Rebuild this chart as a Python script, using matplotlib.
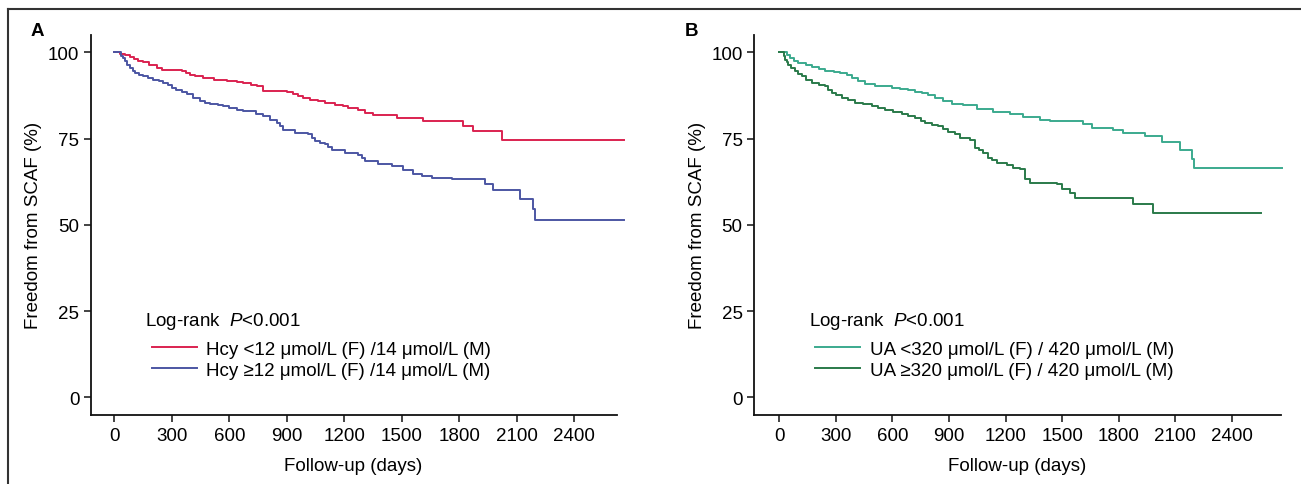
import matplotlib
matplotlib.use("Agg")
import matplotlib.pyplot as plt
from matplotlib.lines import Line2D

plt.rcParams['font.family'] = ['Liberation Sans', 'DejaVu Sans']
plt.rcParams['mathtext.fontset'] = 'custom'
plt.rcParams['mathtext.rm'] = 'Liberation Sans'
plt.rcParams['mathtext.it'] = 'Liberation Sans:italic'

# ---------------- data ----------------
# Panel A: Hcy
hcy_low_t = [0, 30, 55, 80, 100, 125, 150, 180, 220, 250, 350, 375, 394, 420, 463, 520, 585, 640, 672, 710,
             742, 776, 898, 930, 959, 985, 1020, 1063, 1100, 1150, 1190, 1220, 1270, 1307, 1350, 1472, 1611,
             1820, 1872, 2020]
hcy_low_s = [100, 99.6, 99.2, 98.6, 98.1, 97.6, 97.1, 96.4, 95.5, 95.0, 94.5, 94.0, 93.5, 93.0, 92.5, 92.1,
             91.8, 91.5, 91.1, 90.6, 90.1, 88.9, 88.5, 87.8, 87.2, 86.7, 86.2, 85.8, 85.3, 84.8, 84.3, 83.8,
             83.2, 82.5, 81.8, 81.0, 80.0, 78.6, 77.1, 74.7]
hcy_low_end = 2660

hcy_high_t = [0, 35, 45, 55, 68, 81, 95, 107, 130, 150, 175, 202, 230, 255, 280, 298, 320, 350, 377, 410,
              446, 475, 498, 540, 568, 600, 637, 670, 707, 740, 776, 810, 846, 865, 881, 942, 1011, 1030, 1046,
              1070, 1098, 1115, 1133, 1202, 1272, 1290, 1307, 1376, 1446, 1507, 1559, 1603, 1655, 1759, 1933,
              1976, 2115, 2185, 2194]
hcy_high_s = [100, 99.0, 98.2, 97.4, 96.4, 95.5, 94.7, 94.0, 93.5, 93.1, 92.6, 92.1, 91.6, 91.1, 90.4, 89.7,
              89.0, 88.4, 87.8, 86.8, 85.8, 85.3, 84.9, 84.6, 84.4, 83.9, 83.4, 83.1, 82.9, 82.2, 81.5, 80.5,
              79.6, 78.6, 77.6, 76.7, 76.2, 75.2, 74.2, 73.7, 73.3, 72.5, 71.6, 70.9, 70.2, 69.3, 68.5, 67.7,
              67.0, 65.8, 64.8, 64.1, 63.7, 63.2, 61.7, 60.0, 57.6, 54.5, 51.3]
hcy_high_end = 2660

# Panel B: UA
ua_low_t = [0, 40, 58, 80, 102, 140, 173, 210, 243, 290, 323, 360, 385, 420, 455, 508, 597, 640, 685, 720,
            756, 790, 826, 870, 915, 976, 1047, 1135, 1224, 1294, 1383, 1436, 1612, 1657, 1771, 1824, 1939,
            2028, 2124, 2187, 2199]
ua_low_s = [100, 99.2, 98.4, 97.6, 96.9, 96.2, 95.7, 95.2, 94.7, 94.3, 94.0, 93.3, 92.6, 91.7, 90.9, 90.2,
            89.7, 89.3, 89.0, 88.6, 88.3, 87.5, 86.8, 86.0, 85.1, 84.6, 83.6, 82.6, 82.0, 81.3, 80.5, 80.0,
            79.1, 78.1, 77.4, 76.7, 75.7, 73.9, 71.8, 69.0, 66.4]
ua_low_end = 2667

ua_high_t = [0, 24, 31, 40, 49, 65, 84, 100, 120, 145, 173, 210, 243, 260, 279, 300, 332, 365, 402, 445,
             491, 525, 561, 605, 650, 685, 720, 750, 773, 810, 844, 870, 897, 932, 959, 1012, 1038, 1060, 1082,
             1109, 1130, 1153, 1206, 1241, 1277, 1303, 1330, 1471, 1498, 1542, 1568, 1877, 1983]
ua_high_s = [100, 99.0, 97.9, 97.1, 96.4, 95.4, 94.5, 93.8, 93.1, 92.1, 91.1, 90.6, 90.2, 89.2, 88.3, 87.5,
             86.8, 86.1, 85.4, 84.9, 84.4, 83.9, 83.4, 82.7, 82.0, 81.5, 81.0, 80.2, 79.4, 79.0, 78.6, 77.8,
             77.0, 76.2, 75.2, 74.5, 72.3, 71.6, 70.9, 69.4, 68.7, 68.0, 67.2, 66.6, 66.3, 63.2, 62.2, 61.7,
             60.3, 59.3, 57.9, 56.0, 53.5]
ua_high_end = 2552

x_ticks = [0, 300, 600, 900, 1200, 1500, 1800, 2100, 2400]
y_ticks = [0, 25, 50, 75, 100]

labels_A = ["Hcy <12 μmol/L (F) /14 μmol/L (M)", "Hcy ≥12 μmol/L (F) /14 μmol/L (M)"]
labels_B = ["UA <320 μmol/L (F) / 420 μmol/L (M)", "UA ≥320 μmol/L (F) / 420 μmol/L (M)"]
colors_A = ["#DA2250", "#4C56A3"]
colors_B = ["#3BAA8E", "#2A7A4A"]

# ---------------- figure ----------------
W, H = 1301, 485
fig = plt.figure(figsize=(W / 100, H / 100), dpi=100)
FS = 13.5


def px_rect(l, r, t, b):
    return [l / W, (H - b) / H, (r - l) / W, (b - t) / H]


def km(ax, t, s, end, color):
    xs = list(t) + [end]
    ys = list(s) + [s[-1]]
    ax.step(xs, ys, where='post', color=color, lw=1.4, clip_on=False)


def style(ax, xlim):
    ax.set_xlim(*xlim)
    ax.set_ylim(-5, 105)
    for sp in ['top', 'right']:
        ax.spines[sp].set_visible(False)
    for sp in ['left', 'bottom']:
        ax.spines[sp].set_linewidth(1.3)
        ax.spines[sp].set_color('#111111')
    ax.set_xticks(x_ticks)
    ax.set_yticks(y_ticks)
    ax.tick_params(axis='both', length=5, width=1.1, labelsize=FS, color='#111111')
    ax.tick_params(axis='x', pad=4)
    ax.tick_params(axis='y', pad=3)
    ax.set_xlabel("Follow-up (days)", fontsize=FS, labelpad=9)
    ax.set_ylabel("Freedom from SCAF (%)", fontsize=FS, labelpad=4)


def legend(ax, labels, colors):
    ax.text(0.104, 0.236, "Log-rank  $P$<0.001", transform=ax.transAxes, fontsize=FS, va='baseline', ha='left')
    handles = [Line2D([], [], color=c, lw=1.4) for c in colors]
    ax.legend(handles, labels, loc='upper left', bbox_to_anchor=(0.117, 0.195), frameon=False,
              fontsize=FS, handlelength=2.4, handletextpad=0.5, labelspacing=0.2,
              borderpad=0, borderaxespad=0)


axA = fig.add_axes(px_rect(90.5, 616.6, 36, 415.7))
km(axA, hcy_low_t, hcy_low_s, hcy_low_end, colors_A[0])
km(axA, hcy_high_t, hcy_high_s, hcy_high_end, colors_A[1])
style(axA, (-125, 2620))
legend(axA, labels_A, colors_A)

axB = fig.add_axes(px_rect(753.8, 1280.5, 36, 415.7))
km(axB, ua_low_t, ua_low_s, ua_low_end, colors_B[0])
km(axB, ua_high_t, ua_high_s, ua_high_end, colors_B[1])
style(axB, (-134, 2657))
legend(axB, labels_B, colors_B)

fig.text(31 / W, 1 - 32 / H, "A", fontsize=13.5, fontweight='bold', ha='left', va='center')
fig.text(685 / W, 1 - 32 / H, "B", fontsize=13.5, fontweight='bold', ha='left', va='center')

# outer frame (top and left edges)
fig.add_artist(Line2D([7.5 / W, 7.5 / W], [0, 1 - 10 / H], transform=fig.transFigure, color='#333333', lw=1.5))
fig.add_artist(Line2D([7.5 / W, 1], [1 - 10 / H, 1 - 10 / H], transform=fig.transFigure, color='#333333', lw=1.5))

fig.savefig("out.png", dpi=100)
